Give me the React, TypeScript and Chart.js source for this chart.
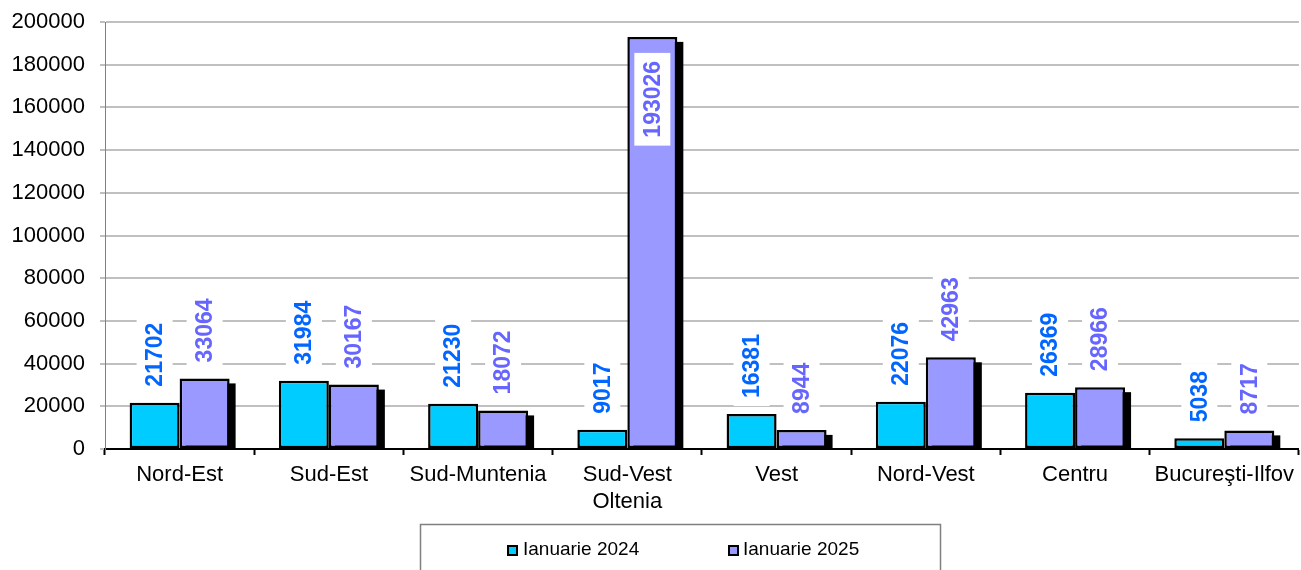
import { useEffect, useRef } from 'react';
import { Chart, registerables } from 'chart.js';

Chart.register(...registerables);

const categories: (string | string[])[] = [
  'Nord-Est',
  'Sud-Est',
  'Sud-Muntenia',
  ['Sud-Vest', 'Oltenia'],
  'Vest',
  'Nord-Vest',
  'Centru',
  'Bucureşti-Ilfov',
];
const seriesNames = ['Ianuarie 2024', 'Ianuarie 2025'];
const values2024 = [21702, 31984, 21230, 9017, 16381, 22076, 26369, 5038];
const values2025 = [33064, 30167, 18072, 193026, 8944, 42963, 28966, 8717];
const yMin = 0;
const yMax = 200000;
const yStep = 20000;

const barColors = ['#00CCFF', '#9999FF'];
const labelColors = ['#0066FF', '#6666FF'];
const FONT = '"Liberation Sans", Arial, Helvetica, sans-serif';

const shadowPlugin = {
  id: 'barShadow',
  beforeDatasetsDraw(chart: any) {
    const ctx = chart.ctx;
    const area = chart.chartArea;
    const meta = chart.getDatasetMeta(1);
    ctx.save();
    ctx.beginPath();
    ctx.rect(area.left, area.top, area.right - area.left, area.bottom - area.top);
    ctx.clip();
    ctx.fillStyle = '#000';
    meta.data.forEach((bar: any) => {
      const p = bar.getProps(['x', 'y', 'base', 'width'], true);
      ctx.fillRect(p.x - p.width / 2 + 6, p.y + 5, p.width, p.base - p.y);
    });
    ctx.restore();
  },
};

const valueLabelPlugin = {
  id: 'valueLabels',
  afterDatasetsDraw(chart: any) {
    const ctx = chart.ctx;
    const area = chart.chartArea;
    chart.data.datasets.forEach((ds: any, di: number) => {
      const meta = chart.getDatasetMeta(di);
      meta.data.forEach((bar: any, i: number) => {
        const text = String(ds.data[i]);
        const p = bar.getProps(['x', 'y'], true);
        ctx.save();
        ctx.font = 'bold 23px ' + FONT;
        const tw = ctx.measureText(text).width;
        const th = 18;
        const padY = 8;
        const padX = 9;
        const boxH = tw + 2 * padY;
        let boxBottom = p.y - 8;
        if (boxBottom - boxH < area.top) boxBottom = p.y + 16 + boxH;
        const boxTop = boxBottom - boxH;
        ctx.fillStyle = '#ffffff';
        ctx.fillRect(p.x - th / 2 - padX, boxTop, th + 2 * padX, boxH);
        ctx.translate(p.x + 1, boxBottom - padY);
        ctx.rotate(-Math.PI / 2);
        ctx.fillStyle = labelColors[di];
        ctx.textAlign = 'left';
        ctx.textBaseline = 'middle';
        ctx.fillText(text, 0, 0);
        ctx.restore();
      });
    });
  },
};

const legendBoxPlugin = {
  id: 'legendBox',
  afterDraw(chart: any) {
    const ctx = chart.ctx;
    ctx.save();
    ctx.strokeStyle = '#808080';
    ctx.lineWidth = 1.5;
    ctx.strokeRect(420.5, 524.5, 520, 70);
    const items = [
      { mx: 507, tx: 523 },
      { mx: 728, tx: 743 },
    ];
    items.forEach((it, i) => {
      ctx.fillStyle = '#000';
      ctx.fillRect(it.mx, 545, 11, 11);
      ctx.fillStyle = barColors[i];
      ctx.fillRect(it.mx + 2, 547, 7, 7);
      ctx.fillStyle = '#000';
      ctx.font = '19px ' + FONT;
      ctx.textAlign = 'left';
      ctx.textBaseline = 'middle';
      ctx.fillText(seriesNames[i], it.tx, 550);
    });
    ctx.restore();
  },
};

export default function App() {
  const ref = useRef<HTMLCanvasElement | null>(null);

  useEffect(() => {
    if (!ref.current) return;
    const chart = new Chart(ref.current, {
      type: 'bar',
      data: {
        labels: categories,
        datasets: [
          {
            label: seriesNames[0],
            data: values2024,
            backgroundColor: barColors[0],
            borderColor: '#000',
            borderWidth: 2.5,
            borderSkipped: false,
            categoryPercentage: 0.67,
            barPercentage: 1,
          },
          {
            label: seriesNames[1],
            data: values2025,
            backgroundColor: barColors[1],
            borderColor: '#000',
            borderWidth: 2.5,
            borderSkipped: false,
            categoryPercentage: 0.67,
            barPercentage: 1,
          },
        ],
      },
      options: {
        animation: false,
        responsive: true,
        maintainAspectRatio: false,
        layout: { padding: { top: 22, bottom: 42, left: 0, right: 0 } },
        plugins: {
          legend: { display: false },
          tooltip: { enabled: false },
        },
        scales: {
          x: {
            offset: true,
            grid: {
              offset: true,
              drawOnChartArea: false,
              drawTicks: true,
              tickLength: 6,
              tickColor: '#000',
              tickWidth: 2,
            },
            border: { color: '#000', width: 2 },
            ticks: {
              color: '#000',
              font: { family: FONT, size: 22 },
              padding: 7,
              maxRotation: 0,
              autoSkip: false,
            },
            afterFit(scale: any) {
              scale.height = 79;
            },
          },
          y: {
            min: yMin,
            max: yMax,
            grid: {
              color: '#c0c0c0',
              lineWidth: 2,
              tickLength: 5,
              tickColor: '#808080',
              tickWidth: 1,
            },
            border: { color: '#808080', width: 1 },
            ticks: {
              stepSize: yStep,
              color: '#000',
              font: { family: FONT, size: 22 },
              padding: 15,
              callback: (v: any) => String(v),
            },
            afterFit(scale: any) {
              scale.width = 105;
              scale.paddingTop = 0;
              scale.paddingBottom = 0;
            },
          },
        },
      },
      plugins: [shadowPlugin, valueLabelPlugin, legendBoxPlugin],
    });
    return () => chart.destroy();
  }, []);

  return (
    <div style={{ position: 'absolute', left: 0, top: 0, width: 1301, height: 570, background: '#fff' }}>
      <canvas ref={ref} />
    </div>
  );
}
